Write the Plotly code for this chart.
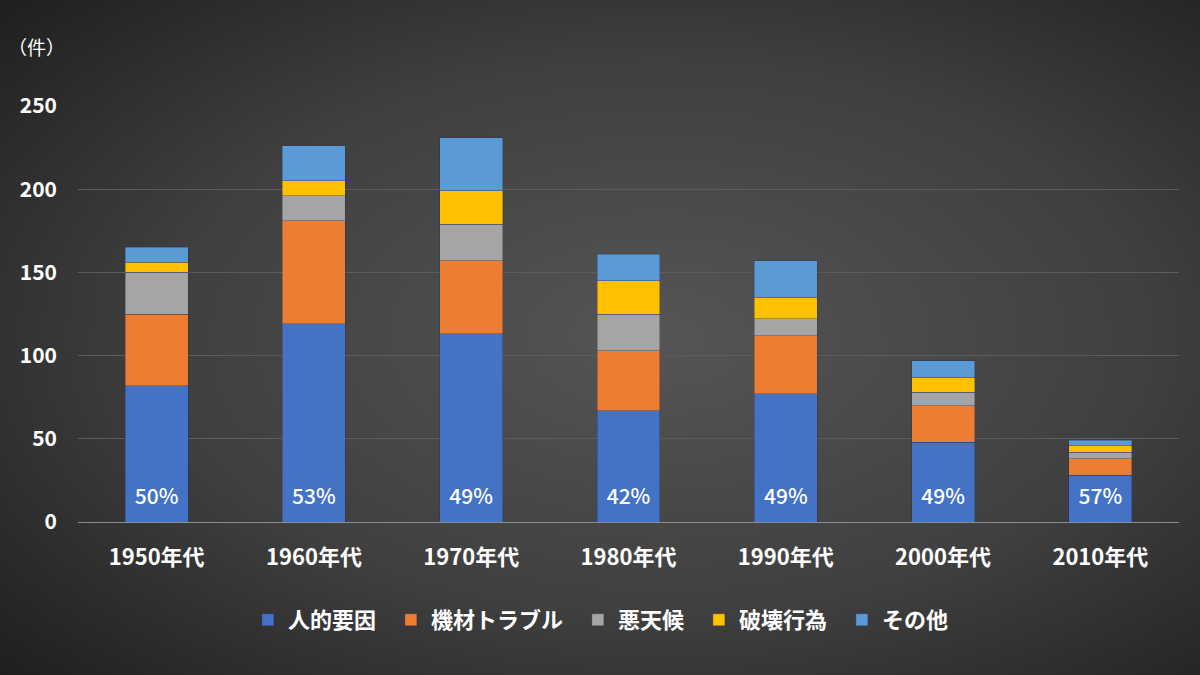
"""
航空事故の原因別件数（年代別）の積み上げ棒グラフ
"""

import base64
import plotly.graph_objects as go

# データ
decades = ["1950年代", "1960年代", "1970年代", "1980年代", "1990年代", "2000年代", "2010年代"]
human = [82, 119, 113, 67, 77, 48, 28]
machine = [43, 62, 44, 36, 35, 22, 10]
weather = [25, 15, 22, 22, 10, 8, 4]
sabotage = [6, 9, 20, 20, 13, 9, 4]
other = [9, 21, 32, 16, 22, 10, 3]
human_share = ["50%", "53%", "49%", "42%", "49%", "49%", "57%"]

series = [
    ("人的要因", human, "#4472C4"),
    ("機材トラブル", machine, "#ED7D31"),
    ("悪天候", weather, "#A5A5A5"),
    ("破壊行為", sabotage, "#FFC000"),
    ("その他", other, "#5B9BD5"),
]

FONT = "Noto Sans CJK JP"
W, H = 1200, 675
L, R, T, B = 78, 21, 106, 153

# 背景の放射グラデーション
svg = (
    f'<svg xmlns="http://www.w3.org/2000/svg" width="{W}" height="{H}">'
    '<defs><radialGradient id="g" cx="0.55" cy="0.5" r="0.75">'
    '<stop offset="0" stop-color="#555555"/>'
    '<stop offset="0.55" stop-color="#3f3f3f"/>'
    '<stop offset="1" stop-color="#1e1e1e"/>'
    '</radialGradient></defs>'
    f'<rect width="{W}" height="{H}" fill="url(#g)"/></svg>'
)
bg_src = "data:image/svg+xml;base64," + base64.b64encode(svg.encode()).decode()

fig = go.Figure()
for name, vals, color in series:
    fig.add_trace(go.Bar(
        name=name + "\u00a0\u00a0", x=decades, y=vals,
        marker=dict(color=color, line=dict(width=0.6, color="rgba(30,50,90,0.6)")),
        hovertemplate=name + ": %{y}<extra></extra>",
    ))

# 人的要因の割合ラベル
fig.add_trace(go.Scatter(
    x=decades, y=[14] * len(decades), text=human_share,
    mode="text", textfont=dict(family=FONT, size=21, color="white", weight=500),
    showlegend=False, hoverinfo="skip",
))

pw = W - L - R
ph = H - T - B

fig.update_layout(
    width=W, height=H,
    barmode="stack",
    bargap=0.6,
    paper_bgcolor="#2b2b2b",
    plot_bgcolor="rgba(0,0,0,0)",
    margin=dict(l=L, r=R, t=T, b=B),
    font=dict(family=FONT, color="white"),
    images=[dict(
        source=bg_src, xref="paper", yref="paper",
        x=-L / pw, y=1 + T / ph, sizex=W / pw, sizey=H / ph,
        xanchor="left", yanchor="top", sizing="stretch", layer="below",
    )],
    xaxis=dict(
        showgrid=False,
        showline=True, linecolor="#8c8c8c", linewidth=1,
        tickfont=dict(family=FONT, size=22, color="white", weight="bold"),
        ticks="", ticklabelstandoff=16,
    ),
    yaxis=dict(
        range=[0, 250], dtick=50,
        showgrid=True, gridcolor="#5c5c5c", gridwidth=1,
        zeroline=False,
        tickfont=dict(family=FONT, size=21, color="white", weight="bold"),
        ticklabelstandoff=20,
    ),
    legend=dict(
        orientation="h", x=0.479, xanchor="center", y=-0.185, yanchor="top",
        font=dict(family=FONT, size=22, color="white", weight="bold"),
        bgcolor="rgba(0,0,0,0)", traceorder="normal", itemwidth=30,
    ),
    annotations=[dict(
        text="（件）", xref="paper", yref="paper",
        x=(6 - L) / pw, y=1 + (T - 46) / ph, xanchor="left", yanchor="middle",
        showarrow=False, font=dict(family=FONT, size=19, color="white"),
    )],
)

fig.write_html("out.html", config={"displayModeBar": False},
               post_script="document.body.style.margin='0';")
